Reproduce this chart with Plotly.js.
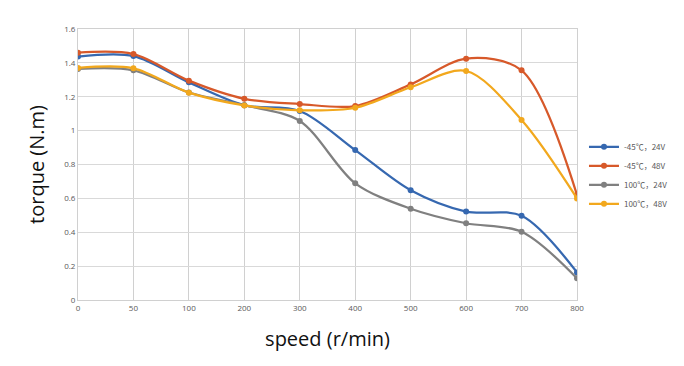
<!DOCTYPE html>
<html>
<head>
<meta charset="utf-8">
<script src="https://cdn.plot.ly/plotly-3.0.1.min.js"></script>
<style>html,body{margin:0;padding:0;background:#fff;}#chart{width:684px;height:366px;}</style>
</head>
<body>
<div id="chart"></div>
<script>
var speeds = ["0", "50", "100", "200", "300", "400", "500", "600", "700", "800"];
var minus45_24V = [1.437, 1.44, 1.285, 1.15, 1.116, 0.885, 0.648, 0.522, 0.497, 0.163];
var minus45_48V = [1.46, 1.452, 1.295, 1.188, 1.157, 1.145, 1.273, 1.425, 1.356, 0.62];
var t100_24V = [1.364, 1.356, 1.225, 1.15, 1.057, 0.689, 0.539, 0.453, 0.403, 0.128];
var t100_48V = [1.37, 1.368, 1.224, 1.149, 1.12, 1.135, 1.256, 1.352, 1.063, 0.6];
var seriesNames = ["-45℃，24V", "-45℃，48V", "100℃，24V", "100℃，48V"];
var seriesColors = ["#3668B0", "#D7592A", "#808080", "#F2A81D"];
var seriesData = [minus45_24V, minus45_48V, t100_24V, t100_48V];

var traces = seriesData.map(function (vals, i) {
  return {
    x: speeds.map(function (s, k) { return k; }),
    y: vals,
    name: seriesNames[i],
    type: "scatter",
    mode: "lines+markers",
    line: {color: seriesColors[i], width: 2.25, shape: "spline", smoothing: 0.9},
    marker: {color: seriesColors[i], size: 6}
  };
});

var layout = {
  width: 684, height: 366,
  paper_bgcolor: "#fff", plot_bgcolor: "#fff",
  margin: {l: 78, r: 107, t: 29, b: 66, autoexpand: false},
  font: {family: "Open Sans, Noto Sans, sans-serif", color: "#595959"},
  showlegend: true,
  legend: {x: 1.014, y: 0.46, yanchor: "middle", xanchor: "left",
           font: {size: 8, color: "#595959", family: "Noto Sans CJK SC, Noto Sans, sans-serif"},
           tracegroupgap: 0, itemwidth: 30, bgcolor: "rgba(0,0,0,0)"},
  xaxis: {
    range: [0, 9],
    tickmode: "array",
    tickvals: speeds.map(function (s, k) { return k; }),
    ticktext: speeds,
    showgrid: true, gridcolor: "#D0D0D0", gridwidth: 1,
    zeroline: false, showline: true, linecolor: "#D0D0D0", mirror: true,
    ticks: "", tickfont: {size: 8, color: "#595959"},
    title: {text: "speed (r/min)", font: {size: 20, color: "#111"}, standoff: 20}
  },
  yaxis: {
    range: [0, 1.6], dtick: 0.2, tick0: 0,
    showgrid: true, gridcolor: "#D9D9D9", gridwidth: 1,
    zeroline: false, showline: true, linecolor: "#D0D0D0", mirror: true,
    ticks: "", tickfont: {size: 8, color: "#595959"},
    title: {text: "torque (N.m)", font: {size: 20, color: "#111"}, standoff: 14}
  }
};

Plotly.newPlot("chart", traces, layout, {displayModeBar: false, staticPlot: true});
</script>
</body>
</html>
